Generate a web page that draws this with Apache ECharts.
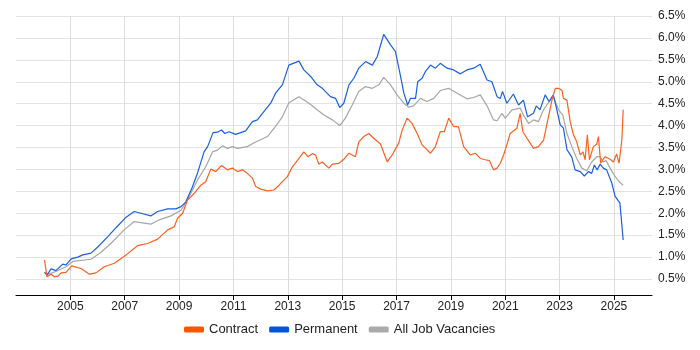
<!DOCTYPE html>
<html>
<head>
<meta charset="utf-8">
<script src="https://cdn.jsdelivr.net/npm/echarts@6/dist/echarts.min.js"></script>
<style>
html,body{margin:0;padding:0;background:#fff;}
#chart{width:700px;height:350px;}
</style>
</head>
<body>
<div id="chart"></div>
<script>
// ---- Data (decimal years, percentage share) ----
const seriesNames = ['Contract', 'Permanent', 'All Job Vacancies'];
const xTickYears = [2005, 2007, 2009, 2011, 2013, 2015, 2017, 2019, 2021, 2023, 2025];
const yTickLabels = ['0.5%','1.0%','1.5%','2.0%','2.5%','3.0%','3.5%','4.0%','4.5%','5.0%','5.5%','6.0%','6.5%'];

const contractYears = [2004.05,2004.14,2004.29,2004.41,2004.56,2004.66,2004.84,2005.05,2005.39,2005.70,2005.94,2006.25,2006.62,2007.05,2007.47,2007.84,2008.21,2008.58,2008.82,2008.94,2009.13,2009.31,2009.55,2009.80,2009.98,2010.17,2010.35,2010.56,2010.78,2010.96,2011.15,2011.33,2011.51,2011.70,2011.82,2012.00,2012.25,2012.49,2012.68,2012.80,2012.98,2013.17,2013.41,2013.59,2013.74,2013.90,2014.02,2014.14,2014.27,2014.51,2014.64,2014.88,2015.06,2015.25,2015.49,2015.61,2015.80,2015.98,2016.16,2016.41,2016.66,2016.84,2017.08,2017.21,2017.39,2017.57,2017.76,2017.94,2018.25,2018.43,2018.61,2018.76,2018.92,2019.10,2019.28,2019.47,2019.71,2019.90,2020.08,2020.26,2020.42,2020.57,2020.70,2020.82,2020.94,2021.06,2021.18,2021.43,2021.55,2021.65,2021.80,2021.92,2022.04,2022.22,2022.41,2022.53,2022.72,2022.84,2022.96,2023.09,2023.14,2023.27,2023.39,2023.51,2023.63,2023.76,2023.86,2023.94,2024.02,2024.10,2024.24,2024.37,2024.43,2024.51,2024.67,2024.86,2024.98,2025.10,2025.19,2025.29,2025.34];
const contractValues = [0.93,0.55,0.61,0.55,0.57,0.64,0.65,0.80,0.74,0.61,0.64,0.78,0.86,1.05,1.26,1.31,1.41,1.62,1.69,1.88,2.00,2.30,2.45,2.64,2.72,3.01,2.95,3.09,2.99,3.03,2.95,2.99,2.91,2.80,2.61,2.55,2.51,2.53,2.64,2.72,2.83,3.06,3.25,3.40,3.29,3.36,3.33,3.12,3.17,3.03,3.12,3.14,3.23,3.37,3.29,3.63,3.75,3.82,3.71,3.58,3.17,3.33,3.60,3.90,4.17,4.05,3.82,3.56,3.37,3.52,3.86,3.86,4.17,3.98,3.97,3.52,3.33,3.37,3.25,3.22,3.20,2.99,3.03,3.14,3.33,3.56,3.82,3.94,4.28,3.86,3.71,3.60,3.48,3.52,3.67,4.02,4.58,4.85,4.85,4.80,4.62,4.58,4.09,3.79,3.63,3.33,3.40,3.22,3.79,3.22,3.52,3.58,3.75,3.14,3.29,3.23,3.17,3.35,3.14,3.67,4.36];

const permanentYears = [2004.05,2004.14,2004.29,2004.47,2004.72,2004.84,2005.03,2005.27,2005.46,2005.76,2006.01,2006.37,2006.68,2007.05,2007.35,2007.60,2007.96,2008.21,2008.58,2008.88,2009.07,2009.25,2009.49,2009.68,2009.92,2010.05,2010.25,2010.41,2010.56,2010.68,2010.84,2011.08,2011.45,2011.70,2011.88,2012.12,2012.37,2012.55,2012.80,2013.04,2013.41,2013.59,2013.84,2014.08,2014.27,2014.57,2014.76,2014.91,2015.06,2015.25,2015.43,2015.61,2015.86,2016.11,2016.29,2016.53,2016.78,2016.96,2017.14,2017.27,2017.41,2017.51,2017.70,2017.78,2017.94,2018.06,2018.25,2018.43,2018.61,2018.86,2019.10,2019.35,2019.59,2019.84,2020.08,2020.33,2020.51,2020.70,2020.82,2020.90,2021.06,2021.30,2021.49,2021.67,2021.82,2022.04,2022.14,2022.28,2022.47,2022.61,2022.77,2022.90,2023.02,2023.14,2023.27,2023.45,2023.57,2023.76,2023.91,2024.06,2024.18,2024.28,2024.38,2024.49,2024.61,2024.73,2024.92,2025.04,2025.22,2025.34];
const permanentValues = [0.65,0.59,0.73,0.69,0.84,0.82,0.96,1.00,1.05,1.09,1.23,1.46,1.67,1.91,2.04,2.00,1.94,2.04,2.10,2.10,2.15,2.26,2.60,2.92,3.40,3.52,3.84,3.85,3.90,3.82,3.86,3.80,3.88,4.09,4.13,4.32,4.51,4.74,4.93,5.38,5.47,5.27,5.12,4.93,4.85,4.66,4.62,4.41,4.51,4.93,5.08,5.31,5.46,5.38,5.57,6.08,5.84,5.69,5.15,4.74,4.47,4.62,4.62,5.00,5.08,5.23,5.38,5.31,5.42,5.31,5.27,5.18,5.27,5.31,5.40,5.04,5.00,4.66,4.62,4.78,4.51,4.72,4.47,4.58,4.20,4.28,4.45,4.36,4.70,4.55,4.70,4.36,4.02,3.94,3.45,3.28,2.99,2.95,2.85,2.95,2.91,3.10,2.99,3.12,3.03,2.99,2.69,2.39,2.23,1.39];

const allYears = [2004.05,2004.14,2004.47,2004.84,2005.09,2005.76,2006.13,2006.49,2006.98,2007.35,2007.96,2008.27,2008.70,2009.07,2009.31,2009.68,2009.98,2010.23,2010.41,2010.60,2010.78,2010.96,2011.15,2011.51,2011.76,2012.25,2012.55,2012.80,2013.04,2013.41,2013.78,2014.08,2014.33,2014.64,2014.91,2015.12,2015.37,2015.61,2015.86,2016.11,2016.35,2016.53,2016.78,2017.02,2017.27,2017.45,2017.63,2017.88,2018.12,2018.37,2018.61,2018.92,2019.23,2019.59,2019.84,2020.08,2020.33,2020.57,2020.70,2020.88,2021.00,2021.25,2021.55,2021.67,2021.86,2022.04,2022.22,2022.41,2022.53,2022.77,2022.96,2023.12,2023.27,2023.45,2023.63,2023.82,2024.00,2024.18,2024.37,2024.49,2024.61,2024.71,2024.86,2025.04,2025.22,2025.34];
const allValues = [0.65,0.60,0.67,0.78,0.90,0.95,1.11,1.31,1.62,1.81,1.75,1.85,1.94,2.07,2.30,2.76,3.06,3.40,3.44,3.54,3.48,3.52,3.48,3.52,3.61,3.75,3.98,4.20,4.52,4.66,4.51,4.36,4.24,4.13,4.00,4.17,4.47,4.78,4.89,4.85,4.93,5.10,4.93,4.70,4.51,4.42,4.45,4.62,4.55,4.62,4.80,4.85,4.74,4.61,4.64,4.70,4.45,4.13,4.11,4.28,4.17,4.36,4.40,4.24,4.05,4.13,4.09,4.36,4.47,4.66,4.36,4.24,3.82,3.52,3.25,3.03,2.97,3.17,3.29,3.29,3.17,3.20,3.03,2.84,2.70,2.64];

const seriesColors = ['#FF5F1F', '#1A5FE0', '#A6A6A6'];
const legendColors = ['#FF5500', '#0055DD', '#AAAAAA'];

// ---- Chart ----
const BASE = 2003; // x axis measured in years since 2003 so ticks fall on odd years
const XMAX = 2026.4;
const YMIN = 0.135, YMAX = 6.5;
function pairs(ys, vs) { return ys.map((t, i) => [t - BASE, vs[i]]); }
const FONT = '"Liberation Sans", Arial, sans-serif';
const xTicks = xTickYears.map(y => y - BASE);

const chart = echarts.init(document.getElementById('chart'), null, {renderer: 'canvas'});
chart.setOption({
  animation: false,
  backgroundColor: '#ffffff',
  grid: { left: 16, right: 48, top: 16, bottom: 55, containLabel: false },
  legend: {
    bottom: 9,
    left: 179,
    icon: 'roundRect',
    itemWidth: 20,
    itemHeight: 6,
    itemGap: 11,
    textStyle: { fontSize: 13, color: '#222', fontFamily: FONT },
    data: seriesNames.map((n, i) => ({ name: n, itemStyle: { color: legendColors[i] } }))
  },
  xAxis: {
    type: 'value',
    min: 0,
    max: XMAX - BASE,
    interval: 2,
    axisLine: { show: true, lineStyle: { color: '#000', width: 1 } },
    axisTick: { show: true, length: 5, lineStyle: { color: '#000' }, customValues: xTicks },
    axisLabel: { color: '#222', fontSize: 12, fontFamily: FONT, margin: 6,
                 customValues: xTicks,
                 formatter: v => String(Math.round(v + BASE)) },
    splitLine: { show: true, lineStyle: { color: '#dcdcdc', width: 1 } }
  },
  yAxis: {
    type: 'value',
    position: 'right',
    min: YMIN,
    max: YMAX,
    splitNumber: 13,
    minInterval: 0.5,
    maxInterval: 0.5,
    axisLine: { show: false },
    axisTick: { show: false },
    axisLabel: { color: '#222', fontSize: 12, fontFamily: FONT, margin: 6,
                 showMinLabel: false,
                 formatter: v => {
                   const s = v.toFixed(1) + '%';
                   return yTickLabels.indexOf(s) >= 0 ? s : '';
                 } },
    splitLine: { show: true, showMinLine: false, lineStyle: { color: '#e3e3e3', width: 1 } }
  },
  series: [
    { name: seriesNames[0], type: 'line', data: pairs(contractYears, contractValues),
      showSymbol: false, symbol: 'none', z: 4, color: seriesColors[0],
      lineStyle: { width: 1.2, color: seriesColors[0] } },
    { name: seriesNames[1], type: 'line', data: pairs(permanentYears, permanentValues),
      showSymbol: false, symbol: 'none', z: 3, color: seriesColors[1],
      lineStyle: { width: 1.2, color: seriesColors[1] } },
    { name: seriesNames[2], type: 'line', data: pairs(allYears, allValues),
      showSymbol: false, symbol: 'none', z: 2, color: seriesColors[2],
      lineStyle: { width: 1.2, color: seriesColors[2] } }
  ]
});
</script>
</body>
</html>
